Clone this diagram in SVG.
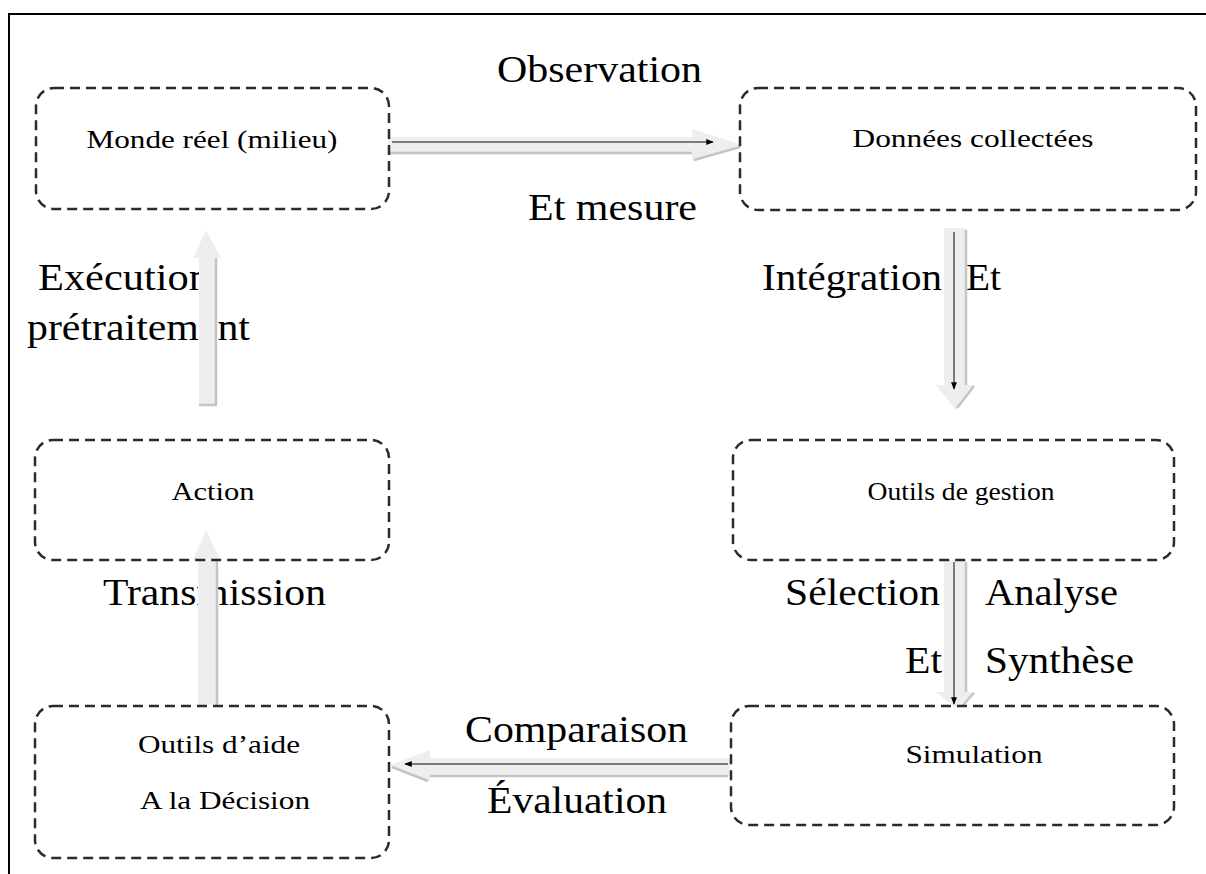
<svg xmlns="http://www.w3.org/2000/svg" width="1206" height="874" viewBox="0 0 1206 874">
<style>
.box{fill:none;stroke:#2b2b2b;stroke-width:2.5;stroke-dasharray:10 6}
.bl{font-family:"Liberation Serif",serif;font-size:26px;fill:#000;text-anchor:middle}
.al{font-family:"Liberation Serif",serif;font-size:37px;fill:#000}
.blk{fill:#eeeeee;stroke:none}
.sh{stroke:#c4c4c4;stroke-width:2.5;fill:none}
.in{stroke:#555;stroke-width:1.5;fill:none;marker-end:url(#tip)}
</style>
<defs>
<marker id="tip" viewBox="0 0 10 10" refX="9" refY="5" markerWidth="6" markerHeight="5" orient="auto" markerUnits="strokeWidth">
<path d="M0,1 L10,5 L0,9 Z" fill="#000"/>
</marker>
</defs>
<rect x="0" y="0" width="1206" height="874" fill="#fff"/>
<rect x="9" y="14" width="1210" height="880" fill="none" stroke="#000" stroke-width="2"/>

<g id="labels">
<text class="al" x="497" y="82" textLength="205" lengthAdjust="spacingAndGlyphs">Observation</text>
<text class="al" x="528" y="220" textLength="169" lengthAdjust="spacingAndGlyphs">Et mesure</text>
<text class="al" x="762" y="290" textLength="180" lengthAdjust="spacingAndGlyphs">Intégration</text>
<text class="al" x="966" y="290" textLength="35" lengthAdjust="spacingAndGlyphs">Et</text>
<text class="al" x="38" y="290" textLength="172" lengthAdjust="spacingAndGlyphs">Exécution</text>
<text class="al" x="27" y="340" textLength="223" lengthAdjust="spacingAndGlyphs">prétraitement</text>
<text class="al" x="103" y="605" textLength="223" lengthAdjust="spacingAndGlyphs">Transmission</text>
<text class="al" x="785" y="605" textLength="155" lengthAdjust="spacingAndGlyphs">Sélection</text>
<text class="al" x="985" y="605" textLength="133" lengthAdjust="spacingAndGlyphs">Analyse</text>
<text class="al" x="905" y="673" textLength="37" lengthAdjust="spacingAndGlyphs">Et</text>
<text class="al" x="985" y="673" textLength="149" lengthAdjust="spacingAndGlyphs">Synthèse</text>
<text class="al" x="465" y="742" textLength="223" lengthAdjust="spacingAndGlyphs">Comparaison</text>
<text class="al" x="487" y="813" textLength="180" lengthAdjust="spacingAndGlyphs">Évaluation</text>
</g>

<g id="connectors">
<!-- Monde -> Données -->
<polygon class="blk" points="388,137 692,137 692,129 742,145 692,160 692,153 388,153"/>
<path class="sh" d="M390,153 H692 M694,160 L740,147"/>
<path class="in" d="M392,142 H713"/>
<!-- Données -> Outils de gestion -->
<polygon class="blk" points="944,228 966,228 966,385 975,385 956,410 936,385 944,385"/>
<path class="sh" d="M966,230 V385 M974,386 L957,408"/>
<path class="in" d="M954,232 V389"/>
<!-- Outils de gestion -> Simulation -->
<polygon class="blk" points="944,560 966,560 966,692 975,692 956,708 936,692 944,692"/>
<path class="sh" d="M966,562 V692 M974,693 L962,706"/>
<path class="in" d="M954,562 V704"/>
<!-- Simulation -> Outils d'aide -->
<polygon class="blk" points="730,758 430,758 430,750 390,765 430,781 430,776 730,776"/>
<path class="sh" d="M728,776 H430 M428,781 L392,767"/>
<path class="in" d="M728,764 H405"/>
<!-- Outils d'aide -> Action -->
<polygon class="blk" points="198,705 198,560 193,560 206,530 220,560 217,560 217,705"/>
<path class="sh" d="M217,560 V705"/>
<!-- Action -> Monde -->
<polygon class="blk" points="199,405 199,258 193,258 206,230 221,258 216,258 216,405"/>
<path class="sh" d="M216,258 V405 M199,405 H217"/>
</g>

<g id="n-monde">
<rect class="box" x="36" y="88" width="353" height="121" rx="18"/>
<text class="bl" x="212" y="148" textLength="251" lengthAdjust="spacingAndGlyphs">Monde réel (milieu)</text>
</g>
<g id="n-donnees">
<rect class="box" x="740" y="88" width="456" height="122" rx="18"/>
<text class="bl" x="973" y="147" textLength="241" lengthAdjust="spacingAndGlyphs">Données collectées</text>
</g>
<g id="n-gestion">
<rect class="box" x="733" y="440" width="441" height="120" rx="18"/>
<text class="bl" x="961" y="500" textLength="187" lengthAdjust="spacingAndGlyphs">Outils de gestion</text>
</g>
<g id="n-action">
<rect class="box" x="35" y="440" width="354" height="120" rx="18"/>
<text class="bl" x="213" y="500" textLength="83" lengthAdjust="spacingAndGlyphs">Action</text>
</g>
<g id="n-aide">
<rect class="box" x="35" y="706" width="354" height="152" rx="18"/>
<text class="bl" x="219" y="753" textLength="162" lengthAdjust="spacingAndGlyphs">Outils d’aide</text>
<text class="bl" x="225" y="809" textLength="170" lengthAdjust="spacingAndGlyphs">A la Décision</text>
</g>
<g id="n-simulation">
<rect class="box" x="731" y="706" width="443" height="119" rx="18"/>
<text class="bl" x="974" y="763" textLength="137" lengthAdjust="spacingAndGlyphs">Simulation</text>
</g>
</svg>
